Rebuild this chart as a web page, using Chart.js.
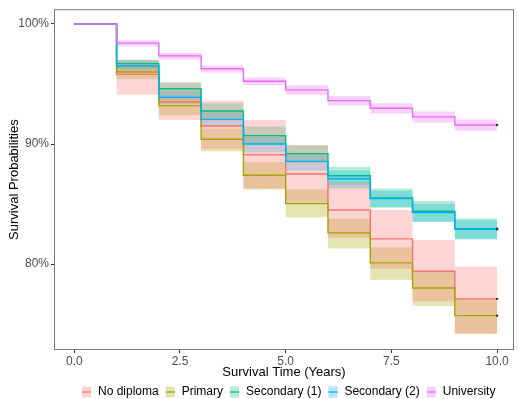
<!DOCTYPE html>
<html>
<head>
<meta charset="utf-8">
<script src="https://cdn.jsdelivr.net/npm/chart.js@4"></script>
<style>
  html, body { margin: 0; padding: 0; background: #fff; }
  #wrap { width: 518px; height: 399px; }
</style>
</head>
<body>
<div id="wrap"><canvas id="chart" width="518" height="399"></canvas></div>
<script>
// Survival curves by education level (Kaplan-Meier with confidence bands)
const years = [0, 1, 2, 3, 4, 5, 6, 7, 8, 9, 10];
const xTicks = [0, 2.5, 5, 7.5, 10];
const yTicks = [80, 90, 100];
const groups = ['No diploma', 'Primary', 'Secondary (1)', 'Secondary (2)', 'University'];

const noDiplomaSurv = [100, 95.8, 93.5, 91.5, 89.1, 87.5, 84.5, 82.1, 79.4, 77.1, 77.1];
const noDiplomaLow  = [100, 94.1, 92.0, 89.6, 86.3, 85.2, 82.2, 79.6, 76.9, 74.2, 74.2];
const noDiplomaHigh = [100, 97.0, 95.1, 93.6, 92.0, 89.9, 86.8, 84.5, 82.0, 79.8, 79.8];

const primarySurv = [100, 96.0, 93.2, 90.4, 87.4, 85.05, 82.6, 80.1, 78.0, 75.7, 75.7];
const primaryLow  = [100, 95.4, 92.4, 89.4, 86.2, 83.9, 81.3, 78.7, 76.5, 74.2, 74.2];
const primaryHigh = [100, 96.5, 93.9, 91.3, 88.5, 86.2, 83.8, 81.4, 79.4, 77.1, 77.1];

const secondary1Surv = [100, 96.7, 94.6, 92.75, 90.7, 89.2, 87.35, 85.5, 84.4, 82.95, 82.95];
const secondary1Low  = [100, 96.3, 94.0, 92.1, 89.95, 88.45, 86.6, 84.7, 83.5, 82.05, 82.05];
const secondary1High = [100, 97.05, 95.15, 93.4, 91.45, 89.9, 88.1, 86.3, 85.25, 83.8, 83.8];

const secondary2Surv = [100, 96.5, 93.9, 92.05, 90.0, 88.55, 87.1, 85.45, 84.3, 82.9, 82.9];
const secondary2Low  = [100, 96.05, 93.35, 91.4, 89.3, 87.8, 86.3, 84.75, 83.55, 82.1, 82.1];
const secondary2High = [100, 96.9, 94.45, 92.7, 90.7, 89.25, 87.8, 86.1, 85.0, 83.65, 83.65];

const universitySurv = [100, 98.4, 97.34, 96.27, 95.23, 94.51, 93.61, 92.98, 92.26, 91.58, 91.58];
const universityLow  = [100, 98.15, 97.05, 95.95, 94.9, 94.1, 93.2, 92.55, 91.8, 91.1, 91.1];
const universityHigh = [100, 98.65, 97.6, 96.55, 95.55, 94.9, 94.0, 93.4, 92.7, 92.05, 92.05];

// couleurs ggplot par défaut
const COLORS = ['#F8766D', '#A3A500', '#00BF7D', '#00B0F6', '#E76BF3'];
const FILLS = [
  'rgba(248, 118, 109, 0.3)',
  'rgba(163, 165, 0, 0.3)',
  'rgba(0, 191, 125, 0.3)',
  'rgba(0, 176, 246, 0.3)',
  'rgba(231, 107, 243, 0.3)'
];

const series = [
  [noDiplomaSurv, noDiplomaLow, noDiplomaHigh],
  [primarySurv, primaryLow, primaryHigh],
  [secondary1Surv, secondary1Low, secondary1High],
  [secondary2Surv, secondary2Low, secondary2High],
  [universitySurv, universityLow, universityHigh]
];

const toPoints = arr => years.map((t, i) => ({ x: t, y: arr[i] }));

const datasets = [];
// bandes de confiance
series.forEach((s, g) => {
  datasets.push({
    label: groups[g] + ' low',
    data: toPoints(s[1]),
    stepped: 'before',
    borderWidth: 0,
    pointRadius: 0,
    fill: false,
    order: 20
  });
  datasets.push({
    label: groups[g] + ' high',
    data: toPoints(s[2]),
    stepped: 'before',
    borderWidth: 0,
    pointRadius: 0,
    backgroundColor: FILLS[g],
    fill: '-1',
    order: 20
  });
});
// courbes de survie
series.forEach((s, g) => {
  datasets.push({
    label: groups[g],
    data: toPoints(s[0]),
    stepped: 'before',
    borderColor: COLORS[g],
    borderWidth: 1.4,
    fill: false,
    pointRadius: ctx => (ctx.dataIndex === years.length - 1 ? 1.2 : 0),
    pointBackgroundColor: '#333',
    pointBorderWidth: 0,
    order: 4 - g
  });
});

const panelPlugin = {
  id: 'panel',
  afterDraw(chart) {
    const { ctx, chartArea: a } = chart;
    ctx.save();
    // bordure du panneau
    ctx.strokeStyle = '#7a7a7a';
    ctx.lineWidth = 1;
    ctx.strokeRect(a.left + 0.5, a.top + 0.5, a.right - a.left - 1, a.bottom - a.top - 1);

    // titres des axes
    ctx.fillStyle = '#000';
    ctx.font = '13px "Liberation Sans", Arial, sans-serif';
    ctx.textAlign = 'center';
    ctx.textBaseline = 'middle';
    ctx.fillText('Survival Time (Years)', (a.left + a.right) / 2, 372);
    ctx.save();
    ctx.translate(14, (a.top + a.bottom) / 2);
    ctx.rotate(-Math.PI / 2);
    ctx.fillText('Survival Probabilities', 0, 0);
    ctx.restore();

    // légende
    ctx.font = '12px "Liberation Sans", Arial, sans-serif';
    const gapSym = 7, symW = 9, symH = 11, itemGap = 7;
    ctx.textAlign = 'left';
    const widths = groups.map(g => ctx.measureText(g).width);
    let x = 82;
    const y = 392;
    groups.forEach((g, i) => {
      ctx.fillStyle = FILLS[i];
      ctx.fillRect(x, y - symH / 2, symW, symH);
      ctx.strokeStyle = COLORS[i];
      ctx.lineWidth = 1.3;
      ctx.beginPath();
      ctx.moveTo(x, y);
      ctx.lineTo(x + symW, y);
      ctx.stroke();
      ctx.fillStyle = '#000';
      ctx.fillText(g, x + symW + gapSym, y);
      x += symW + gapSym + widths[i] + itemGap;
    });
    ctx.restore();
  }
};

new Chart(document.getElementById('chart'), {
  type: 'line',
  data: { datasets },
  options: {
    responsive: false,
    animation: false,
    events: [],
    layout: { padding: { top: 5, right: 2, bottom: 0, left: 0 } },
    plugins: {
      legend: { display: false },
      tooltip: { enabled: false },
      filler: { drawTime: 'beforeDatasetsDraw' }
    },
    scales: {
      x: {
        type: 'linear',
        min: -0.48,
        max: 10.4,
        afterFit: s => { s.height = 49; },
        afterBuildTicks: s => { s.ticks = xTicks.map(v => ({ value: v })); },
        grid: { drawOnChartArea: false, drawTicks: true, tickLength: 3, color: '#333' },
        border: { display: false },
        ticks: {
          padding: 1,
          color: '#4d4d4d',
          font: { family: '"Liberation Sans", Arial, sans-serif', size: 12 },
          maxRotation: 0,
          callback: v => v.toFixed(1)
        }
      },
      y: {
        type: 'linear',
        min: 72.84,
        max: 101.23,
        afterFit: s => { s.width = 54; },
        afterBuildTicks: s => { s.ticks = yTicks.map(v => ({ value: v })); },
        grid: { drawOnChartArea: false, drawTicks: true, tickLength: 3, color: '#333' },
        border: { display: false },
        ticks: {
          padding: 2,
          color: '#4d4d4d',
          font: { family: '"Liberation Sans", Arial, sans-serif', size: 12 },
          callback: v => v + '%'
        }
      }
    }
  },
  plugins: [panelPlugin]
});
</script>
</body>
</html>
